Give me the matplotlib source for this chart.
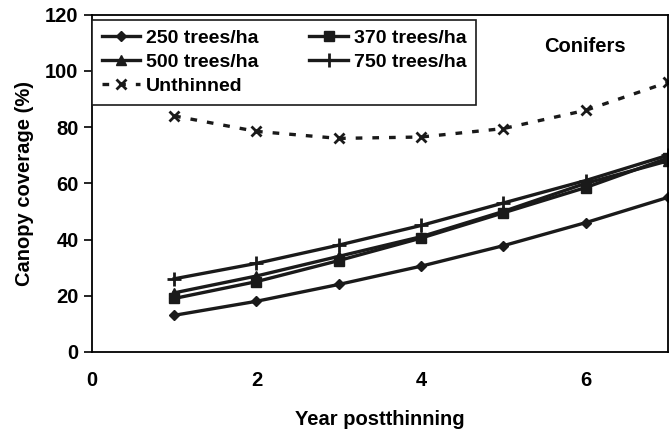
import matplotlib.pyplot as plt

plt.rcParams['font.family'] = ['Liberation Sans', 'DejaVu Sans']
plt.rcParams['font.weight'] = 'bold'

# Data
years = [1, 2, 3, 4, 5, 6, 7]
t250 = [13, 18, 24, 30.5, 37.8, 46, 55]
t370 = [19, 25, 32.5, 40.5, 49.5, 58.5, 69]
t500 = [21, 27, 34, 41, 50, 60, 68]
t750 = [26, 31.5, 38, 45, 53, 61, 70]
unthinned = [84, 78.5, 76, 76.5, 79.5, 86, 96]

fig = plt.figure(figsize=(6.7, 4.36), dpi=100)
ax = fig.add_axes([0.137, 0.193, 0.860, 0.773])

h250, = ax.plot(years, t250, color='#1a1a1a', lw=2.4, marker='D', ms=5.5, label='250 trees/ha')
h370, = ax.plot(years, t370, color='#1a1a1a', lw=2.4, marker='s', ms=7, label='370 trees/ha')
h500, = ax.plot(years, t500, color='#1a1a1a', lw=2.4, marker='^', ms=7, label='500 trees/ha')
h750, = ax.plot(years, t750, color='#1a1a1a', lw=2.4, marker='+', ms=10, mew=2, label='750 trees/ha')
hun, = ax.plot(years, unthinned, color='#1a1a1a', lw=2.4, ls=(0, (2, 3)), marker='x', ms=7, mew=2,
               label='Unthinned')

ax.set_xlim(0, 7)
ax.set_ylim(0, 120)
ax.set_xticks([0, 2, 4, 6])
ax.set_yticks(range(0, 121, 20))
ax.tick_params(axis='x', length=0, pad=14, labelsize=14.5)
ax.tick_params(axis='y', direction='out', length=6, width=1.2, labelsize=14.5)
for s in ax.spines.values():
    s.set_linewidth(1.3)

ax.set_xlabel('Year postthinning', fontsize=14.5, fontweight='bold', labelpad=14)
ax.set_ylabel('Canopy coverage (%)', fontsize=14.5, fontweight='bold', labelpad=8)

ax.text(0.855, 0.905, 'Conifers', transform=ax.transAxes, ha='center', va='center',
        fontsize=14.5, fontweight='bold')

leg = ax.legend(handles=[h250, h500, hun, h370, h750], ncol=2, loc='upper left',
                bbox_to_anchor=(0.0, 0.985), borderaxespad=0, fancybox=False,
                edgecolor='#1a1a1a', framealpha=1, prop={'size': 14, 'weight': 'bold'},
                handlelength=2.0, handletextpad=0.3, columnspacing=2.6, labelspacing=0.32,
                borderpad=0.5)
leg.get_frame().set_linewidth(1.2)

fig.savefig('out.png', dpi=100)
